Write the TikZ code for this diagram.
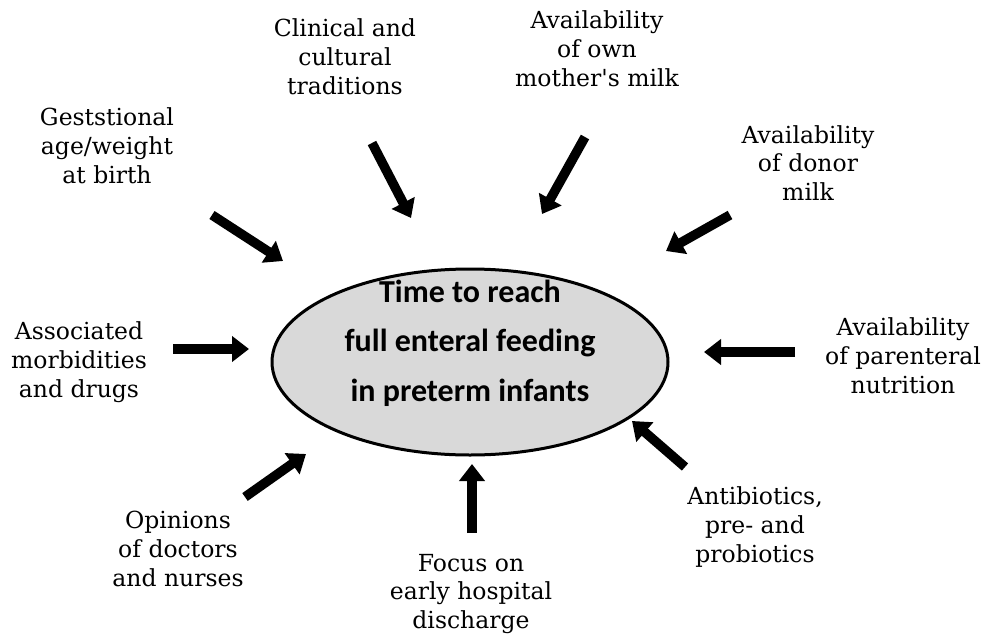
\documentclass[tikz,border=0pt]{standalone}
\usepackage{fontspec}
\setmainfont{DejaVu Serif}[Ligatures=TeXOff]
\newfontfamily\innerfont{Carlito}
\usetikzlibrary{arrows.meta,shapes.geometric}
\begin{document}
\begin{tikzpicture}[x=1pt,y=-1pt,
  lbl/.style={align=center,font=\fontsize{23.5}{28.8}\selectfont,inner sep=0pt},
  bigarrow/.style={line width=9.5pt,-{Triangle[width=25pt,length=17pt]}}]
\useasboundingbox (0,0) rectangle (987,642);
\node[ellipse,draw,line width=3pt,fill={rgb,255:red,217;green,217;blue,217},
  minimum width=396pt,minimum height=186pt,inner sep=0pt] (center) at (470,362) {};
\node[align=center,font=\innerfont\bfseries\fontsize{32}{49.5}\selectfont] (ctext) at (470,343)
  {Time to reach\\full enteral feeding\\in preterm infants};
\node[lbl] (gest) at (107,146) {Geststional\\age/weight\\at birth};
\node[lbl] (clin) at (345,57) {Clinical and\\cultural\\traditions};
\node[lbl] (own) at (597,49) {Availability\\of own\\mother's milk};
\node[lbl] (donor) at (808,163) {Availability\\of donor\\milk};
\node[lbl] (assoc) at (79,362) {Associated\\morbidities\\and drugs};
\node[lbl] (paren) at (903,356) {Availability\\of parenteral\\nutrition};
\node[lbl] (anti) at (755,527) {Antibiotics,\\pre- and\\probiotics};
\node[lbl] (focus) at (471,594) {Focus on\\early hospital\\discharge};
\node[lbl] (opin) at (178,549) {Opinions\\of doctors\\and nurses};
\coordinate (t1) at (212,215); \coordinate (h1) at (283,261);
\coordinate (t2) at (372,143); \coordinate (h2) at (411,218);
\coordinate (t3) at (585,137); \coordinate (h3) at (542,214);
\coordinate (t4) at (730,215); \coordinate (h4) at (666,251);
\coordinate (t5) at (795,352); \coordinate (h5) at (704,352);
\coordinate (t6) at (685,467); \coordinate (h6) at (632,421);
\coordinate (t7) at (472,533); \coordinate (h7) at (472,464);
\coordinate (t8) at (245,497); \coordinate (h8) at (306,454);
\coordinate (t9) at (173,349); \coordinate (h9) at (249,349);
\foreach \i in {1,...,9} {\draw[bigarrow] (t\i) -- (h\i);}
\end{tikzpicture}
\end{document}
